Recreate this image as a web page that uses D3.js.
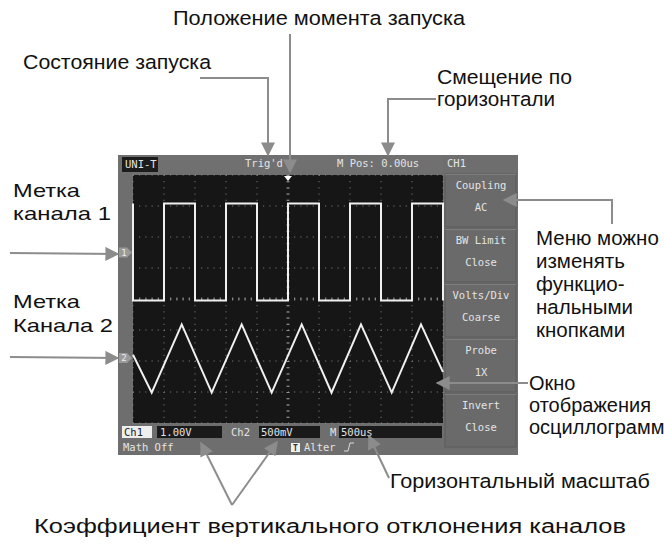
<!DOCTYPE html>
<html><head><meta charset="utf-8">
<script src="https://cdn.jsdelivr.net/npm/d3@7"></script>
<style>
html,body{margin:0;padding:0;background:#fff;}
svg{display:block;}
.ann{font-family:"Liberation Sans",Arial,sans-serif;font-size:20.5px;fill:#111;}
.scr{font-family:"DejaVu Sans Mono",monospace;font-size:10.5px;fill:#e4e4e4;}
</style></head>
<body>
<svg id="c" width="664" height="544"></svg>
<script>
// ---- data ----
const ch1Time = [-2500,-2500,-2000,-1500,-1000,-500,0,500,1000,1500,2000,2500];
const ch1Volt = [1.58,-1.55,1.58,-1.55,1.58,-1.55,1.58,-1.55,1.58,-1.55,1.58,-1.55];
const ch2Time = [-2500,-2198,-1714,-1231,-747,-263,221,702,1177,1673,2145,2500];
const ch2Volt = [0.05,-0.56,0.54,-0.56,0.54,-0.56,0.54,-0.56,0.54,-0.56,0.54,-0.23];
const timeTicks = [-2500,-2000,-1500,-1000,-500,0,500,1000,1500,2000,2500];
const divTicks = [-4,-3,-2,-1,0,1,2,3,4];
const menuTop = ["Coupling","BW  Limit","Volts/Div","Probe","Invert"];
const menuBottom = ["AC","Close","Coarse","1X","Close"];
const ch1Scale = 1.0, ch2Scale = 0.5, ch1Offset = 1.5, ch2Offset = -1.9;

const svg = d3.select("#c");
const x = d3.scaleLinear().domain([-2500,2500]).range([133,443]);
const yd = d3.scaleLinear().domain([-4,4]).range([423,175]);
const y1 = v => yd(v/ch1Scale + ch1Offset);
const y2 = v => yd(v/ch2Scale + ch2Offset);

// frame
svg.append("rect").attr("x",118).attr("y",155).attr("width",400).attr("height",300).attr("fill","#6e6e6e");
svg.append("rect").attr("x",118).attr("y",155).attr("width",325).attr("height",18).attr("fill","#707070");
// grid area
svg.append("rect").attr("x",133).attr("y",175).attr("width",310).attr("height",248).attr("fill","#161616");
const g = svg.append("g");
g.selectAll("line.v").data(timeTicks).join("line")
 .attr("x1",d=>x(d)).attr("x2",d=>x(d)).attr("y1",175).attr("y2",423)
 .attr("stroke","#8a8a8a").attr("stroke-width",1).attr("stroke-dasharray","1,5.2");
g.selectAll("line.h").data(divTicks).join("line")
 .attr("y1",d=>yd(d)).attr("y2",d=>yd(d)).attr("x1",133).attr("x2",443)
 .attr("stroke","#8a8a8a").attr("stroke-width",1).attr("stroke-dasharray","1,5.2");
// center ticks
g.append("line").attr("x1",x(0)).attr("x2",x(0)).attr("y1",175).attr("y2",423)
 .attr("stroke","#9a9a9a").attr("stroke-width",3).attr("stroke-dasharray","1,5.2");
g.append("line").attr("y1",yd(0)).attr("y2",yd(0)).attr("x1",133).attr("x2",443)
 .attr("stroke","#9a9a9a").attr("stroke-width",3).attr("stroke-dasharray","1,5.2");

// waveforms
const pts1 = ch1Time.map((t,i)=>[t,ch1Volt[i]]);
const pts2 = ch2Time.map((t,i)=>[t,ch2Volt[i]]);
svg.append("path").attr("d",d3.line().x(d=>x(d[0])).y(d=>y1(d[1])).curve(d3.curveStepAfter)(pts1))
 .attr("fill","none").attr("stroke","#f0f0f0").attr("stroke-width",2);
svg.append("path").attr("d",d3.line().x(d=>x(d[0])).y(d=>y2(d[1]))(pts2))
 .attr("fill","none").attr("stroke","#f0f0f0").attr("stroke-width",2);

// header
svg.append("rect").attr("x",122).attr("y",157).attr("width",36).attr("height",15).attr("fill","#1c1c1c");
svg.append("text").attr("class","scr").attr("x",125).attr("y",168).text("UNI-T");
svg.append("text").attr("class","scr").attr("x",245).attr("y",167).text("Trig'd");
svg.append("text").attr("class","scr").attr("x",337).attr("y",167).text("M Pos: 0.00us");
svg.append("text").attr("class","scr").attr("x",447).attr("y",167).text("CH1");
// trigger marker
svg.append("path").attr("d",`M${x(0)-4},176 L${x(0)+4},176 L${x(0)},181 Z`).attr("fill","#fff");
// channel markers
function marker(yy,lbl){
  const m = svg.append("g");
  m.append("path").attr("d",`M119,${yy-5} L127,${yy-5} L132,${yy} L127,${yy+5} L119,${yy+5} Z`).attr("fill","#9a9a9a");
  m.append("text").attr("x",124).attr("y",yy+3.5).attr("text-anchor","middle")
   .style("font-family","DejaVu Sans Mono").style("font-size","9px").attr("fill","#eee").text(lbl);
}
marker(y1(0),"1"); marker(y2(0),"2");

// menu buttons
const bt = svg.append("g");
menuTop.forEach((t,i)=>{
  const top = 174 + i*55;
  bt.append("rect").attr("x",445).attr("y",top).attr("width",71).attr("height",53).attr("fill","#6a6a6a")
    .attr("stroke","#5a5a5a").attr("stroke-width",1);
  bt.append("line").attr("x1",445).attr("x2",516).attr("y1",top+0.5).attr("y2",top+0.5).attr("stroke","#7e7e7e");
  bt.append("text").attr("class","scr").attr("x",481).attr("y",top+15).attr("text-anchor","middle").text(t);
  bt.append("text").attr("class","scr").attr("x",481).attr("y",top+37).attr("text-anchor","middle").text(menuBottom[i]);
});

// bottom status
svg.append("rect").attr("x",122).attr("y",426).attr("width",30).attr("height",12).attr("fill","#eee");
svg.append("text").attr("class","scr").attr("x",124).attr("y",436).style("fill","#222").text("Ch1");
svg.append("rect").attr("x",157).attr("y",426).attr("width",65).attr("height",12).attr("fill","#1a1a1a");
svg.append("text").attr("class","scr").attr("x",160).attr("y",436).text("1.00V");
svg.append("text").attr("class","scr").attr("x",231).attr("y",436).text("Ch2");
svg.append("rect").attr("x",259).attr("y",426).attr("width",61).attr("height",12).attr("fill","#1a1a1a");
svg.append("text").attr("class","scr").attr("x",261).attr("y",436).text("500mV");
svg.append("text").attr("class","scr").attr("x",330).attr("y",436).text("M");
svg.append("rect").attr("x",339).attr("y",426).attr("width",103).attr("height",12).attr("fill","#1a1a1a");
svg.append("text").attr("class","scr").attr("x",341).attr("y",436).text("500us");
svg.append("text").attr("class","scr").attr("x",123).attr("y",451).text("Math Off");
svg.append("rect").attr("x",291).attr("y",443).attr("width",9).attr("height",9).attr("fill","#eee");
svg.append("text").attr("x",295.5).attr("y",451).attr("text-anchor","middle").style("font-family","DejaVu Sans Mono").style("font-size","8px").style("font-weight","bold").attr("fill","#333").text("T");
svg.append("text").attr("class","scr").attr("x",304).attr("y",451).text("Alter");
svg.append("path").attr("d","M344,451 L348,451 L350,443 L354,443").attr("fill","none").attr("stroke","#ddd");

// annotations
const ann = svg.append("g");
function t(x0,y0,s,len,fs){
  const el = ann.append("text").attr("class","ann").attr("x",x0).attr("y",y0).text(s);
  if (len) el.attr("textLength",len).attr("lengthAdjust","spacingAndGlyphs");
  if (fs) el.style("font-size",fs+"px");
}
t(173,25,"Положение момента запуска",292);
t(23,69,"Состояние запуска",188);
t(437,84,"Смещение по",135);
t(437,106,"горизонтали",118);
t(13,197,"Метка",67,19);
t(13,220,"канала 1",98,19);
t(13,308,"Метка",67,19);
t(13,332,"Канала 2",100,19);
t(536,245,"Меню можно");
t(536,268,"изменять");
t(536,291,"функцио-");
t(536,314,"нальными");
t(536,337,"кнопками");
t(529,390,"Окно",null,20);
t(529,412,"отображения",null,20);
t(529,434,"осциллограмм",null,20);
t(390,488,"Горизонтальный масштаб",260);
t(34,533,"Коэффициент вертикального отклонения каналов",592,20);

// arrows
const defs = svg.append("defs");
defs.append("marker").attr("id","ah").attr("viewBox","0 0 10 10").attr("refX",9).attr("refY",5)
 .attr("markerWidth",9).attr("markerHeight",7).attr("orient","auto-start-reverse")
 .append("path").attr("d","M0,0 L10,5 L0,10 Z").attr("fill","#8c8c8c");
function arrow(pts){ ann.append("path").attr("d",d3.line()(pts)).attr("fill","none")
  .attr("stroke","#8c8c8c").attr("stroke-width",2).attr("marker-end","url(#ah)"); }
arrow([[290,34],[290,172]]);
arrow([[200,78],[268,78],[268,155]]);
arrow([[436,99],[388,99],[388,155]]);
arrow([[10,253],[118,254]]);
arrow([[10,357],[118,358]]);
arrow([[612,224],[612,200],[504,200]]);
arrow([[528,383],[437,383]]);
arrow([[389,478],[369,436]]);
arrow([[232,505],[201,443]]);
arrow([[232,505],[277,442]]);
</script>
</body></html>
